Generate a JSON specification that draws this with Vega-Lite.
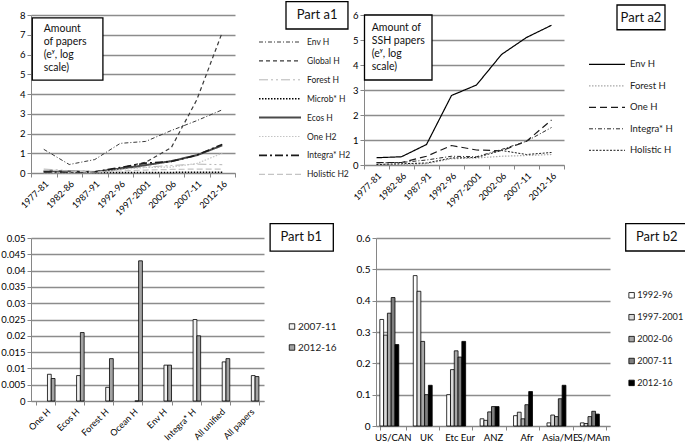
{
  "$schema": "https://vega.github.io/schema/vega-lite/v6.json",
  "background": "white",
  "padding": 0,
  "config": {
    "font": "Lato",
    "view": {"stroke": null},
    "axis": {"labelFont": "Lato", "labelFontSize": 9.5, "labelColor": "#000", "domainColor": "#868686", "tickColor": "#868686", "gridColor": "#8c8c8c", "gridWidth": 1.5, "title": null, "tickSize": 4, "labelPadding": 2},
    "legend": {"labelFont": "Lato", "labelColor": "#222", "padding": 0, "title": null, "orient": "none"}
  },
  "datasets": {
    "a1": [
      {"period": "1977-81", "series": "Env H", "value": 1.2}, {"period": "1982-86", "series": "Env H", "value": 0.43}, {"period": "1987-91", "series": "Env H", "value": 0.68}, {"period": "1992-96", "series": "Env H", "value": 1.5}, {"period": "1997-2001", "series": "Env H", "value": 1.6}, {"period": "2002-06", "series": "Env H", "value": 2.15}, {"period": "2007-11", "series": "Env H", "value": 2.65}, {"period": "2012-16", "series": "Env H", "value": 3.2},
      {"period": "1977-81", "series": "Global H", "value": 0.1}, {"period": "1982-86", "series": "Global H", "value": 0.05}, {"period": "1987-91", "series": "Global H", "value": 0.05}, {"period": "1992-96", "series": "Global H", "value": 0.25}, {"period": "1997-2001", "series": "Global H", "value": 0.55}, {"period": "2002-06", "series": "Global H", "value": 1.28}, {"period": "2007-11", "series": "Global H", "value": 3.7}, {"period": "2012-16", "series": "Global H", "value": 7.12},
      {"period": "1977-81", "series": "Forest H", "value": 0.2}, {"period": "1982-86", "series": "Forest H", "value": 0.12}, {"period": "1987-91", "series": "Forest H", "value": 0.08}, {"period": "1992-96", "series": "Forest H", "value": 0.22}, {"period": "1997-2001", "series": "Forest H", "value": 0.3}, {"period": "2002-06", "series": "Forest H", "value": 0.38}, {"period": "2007-11", "series": "Forest H", "value": 0.45}, {"period": "2012-16", "series": "Forest H", "value": 0.42},
      {"period": "1977-81", "series": "Microb* H", "value": 0.05}, {"period": "1982-86", "series": "Microb* H", "value": 0.05}, {"period": "1987-91", "series": "Microb* H", "value": 0.03}, {"period": "1992-96", "series": "Microb* H", "value": 0.03}, {"period": "1997-2001", "series": "Microb* H", "value": 0.03}, {"period": "2002-06", "series": "Microb* H", "value": 0.03}, {"period": "2007-11", "series": "Microb* H", "value": 0.04}, {"period": "2012-16", "series": "Microb* H", "value": 0.04},
      {"period": "1977-81", "series": "Ecos H", "value": 0.1}, {"period": "1982-86", "series": "Ecos H", "value": 0.08}, {"period": "1987-91", "series": "Ecos H", "value": 0.05}, {"period": "1992-96", "series": "Ecos H", "value": 0.22}, {"period": "1997-2001", "series": "Ecos H", "value": 0.4}, {"period": "2002-06", "series": "Ecos H", "value": 0.6}, {"period": "2007-11", "series": "Ecos H", "value": 0.9}, {"period": "2012-16", "series": "Ecos H", "value": 1.4},
      {"period": "1977-81", "series": "One H2", "value": 0.02}, {"period": "1982-86", "series": "One H2", "value": 0.02}, {"period": "1987-91", "series": "One H2", "value": 0.04}, {"period": "1992-96", "series": "One H2", "value": 0.18}, {"period": "1997-2001", "series": "One H2", "value": 0.28}, {"period": "2002-06", "series": "One H2", "value": 0.3}, {"period": "2007-11", "series": "One H2", "value": 0.48}, {"period": "2012-16", "series": "One H2", "value": 1.0},
      {"period": "1977-81", "series": "Integra* H2", "value": 0.05}, {"period": "1982-86", "series": "Integra* H2", "value": 0.05}, {"period": "1987-91", "series": "Integra* H2", "value": 0.06}, {"period": "1992-96", "series": "Integra* H2", "value": 0.28}, {"period": "1997-2001", "series": "Integra* H2", "value": 0.5}, {"period": "2002-06", "series": "Integra* H2", "value": 0.58}, {"period": "2007-11", "series": "Integra* H2", "value": 0.9}, {"period": "2012-16", "series": "Integra* H2", "value": 1.45},
      {"period": "1977-81", "series": "Holistic H2", "value": 0.15}, {"period": "1982-86", "series": "Holistic H2", "value": 0.1}, {"period": "1987-91", "series": "Holistic H2", "value": 0.05}, {"period": "1992-96", "series": "Holistic H2", "value": 0.1}, {"period": "1997-2001", "series": "Holistic H2", "value": 0.15}, {"period": "2002-06", "series": "Holistic H2", "value": 0.18}, {"period": "2007-11", "series": "Holistic H2", "value": 0.2}, {"period": "2012-16", "series": "Holistic H2", "value": 0.2}
    ],
    "a2": [
      {"period": "1977-81", "series": "Env H", "value": 0.29}, {"period": "1982-86", "series": "Env H", "value": 0.33}, {"period": "1987-91", "series": "Env H", "value": 0.82}, {"period": "1992-96", "series": "Env H", "value": 2.78}, {"period": "1997-2001", "series": "Env H", "value": 3.2}, {"period": "2002-06", "series": "Env H", "value": 4.42}, {"period": "2007-11", "series": "Env H", "value": 5.1}, {"period": "2012-16", "series": "Env H", "value": 5.59},
      {"period": "1977-81", "series": "Forest H", "value": 0.02}, {"period": "1982-86", "series": "Forest H", "value": 0.02}, {"period": "1987-91", "series": "Forest H", "value": 0.05}, {"period": "1992-96", "series": "Forest H", "value": 0.25}, {"period": "1997-2001", "series": "Forest H", "value": 0.28}, {"period": "2002-06", "series": "Forest H", "value": 0.35}, {"period": "2007-11", "series": "Forest H", "value": 0.38}, {"period": "2012-16", "series": "Forest H", "value": 0.42},
      {"period": "1977-81", "series": "One H", "value": 0.1}, {"period": "1982-86", "series": "One H", "value": 0.1}, {"period": "1987-91", "series": "One H", "value": 0.35}, {"period": "1992-96", "series": "One H", "value": 0.78}, {"period": "1997-2001", "series": "One H", "value": 0.6}, {"period": "2002-06", "series": "One H", "value": 0.57}, {"period": "2007-11", "series": "One H", "value": 0.95}, {"period": "2012-16", "series": "One H", "value": 1.8},
      {"period": "1977-81", "series": "Integra* H", "value": 0.08}, {"period": "1982-86", "series": "Integra* H", "value": 0.1}, {"period": "1987-91", "series": "Integra* H", "value": 0.2}, {"period": "1992-96", "series": "Integra* H", "value": 0.35}, {"period": "1997-2001", "series": "Integra* H", "value": 0.33}, {"period": "2002-06", "series": "Integra* H", "value": 0.62}, {"period": "2007-11", "series": "Integra* H", "value": 0.95}, {"period": "2012-16", "series": "Integra* H", "value": 1.5},
      {"period": "1977-81", "series": "Holistic H", "value": 0.02}, {"period": "1982-86", "series": "Holistic H", "value": 0.05}, {"period": "1987-91", "series": "Holistic H", "value": 0.08}, {"period": "1992-96", "series": "Holistic H", "value": 0.28}, {"period": "1997-2001", "series": "Holistic H", "value": 0.3}, {"period": "2002-06", "series": "Holistic H", "value": 0.58}, {"period": "2007-11", "series": "Holistic H", "value": 0.42}, {"period": "2012-16", "series": "Holistic H", "value": 0.5}
    ],
    "b1": [
      {"cat": "One H", "period": "2007-11", "value": 0.0082}, {"cat": "One H", "period": "2012-16", "value": 0.0069},
      {"cat": "Ecos H", "period": "2007-11", "value": 0.0078}, {"cat": "Ecos H", "period": "2012-16", "value": 0.021},
      {"cat": "Forest H", "period": "2007-11", "value": 0.0042}, {"cat": "Forest H", "period": "2012-16", "value": 0.013},
      {"cat": "Ocean H", "period": "2007-11", "value": 0}, {"cat": "Ocean H", "period": "2012-16", "value": 0.043},
      {"cat": "Env H", "period": "2007-11", "value": 0.011}, {"cat": "Env H", "period": "2012-16", "value": 0.011},
      {"cat": "Integra* H", "period": "2007-11", "value": 0.025}, {"cat": "Integra* H", "period": "2012-16", "value": 0.02},
      {"cat": "All unified", "period": "2007-11", "value": 0.012}, {"cat": "All unified", "period": "2012-16", "value": 0.013},
      {"cat": "All papers", "period": "2007-11", "value": 0.0078}, {"cat": "All papers", "period": "2012-16", "value": 0.0075}
    ],
    "b2": [
      {"region": "US/CAN", "period": "1992-96", "value": 0.34}, {"region": "US/CAN", "period": "1997-2001", "value": 0.29}, {"region": "US/CAN", "period": "2002-06", "value": 0.36}, {"region": "US/CAN", "period": "2007-11", "value": 0.41}, {"region": "US/CAN", "period": "2012-16", "value": 0.26},
      {"region": "UK", "period": "1992-96", "value": 0.48}, {"region": "UK", "period": "1997-2001", "value": 0.43}, {"region": "UK", "period": "2002-06", "value": 0.27}, {"region": "UK", "period": "2007-11", "value": 0.1}, {"region": "UK", "period": "2012-16", "value": 0.13},
      {"region": "Etc Eur", "period": "1992-96", "value": 0.1}, {"region": "Etc Eur", "period": "1997-2001", "value": 0.18}, {"region": "Etc Eur", "period": "2002-06", "value": 0.24}, {"region": "Etc Eur", "period": "2007-11", "value": 0.22}, {"region": "Etc Eur", "period": "2012-16", "value": 0.27},
      {"region": "ANZ", "period": "1992-96", "value": 0.023}, {"region": "ANZ", "period": "1997-2001", "value": 0.018}, {"region": "ANZ", "period": "2002-06", "value": 0.045}, {"region": "ANZ", "period": "2007-11", "value": 0.062}, {"region": "ANZ", "period": "2012-16", "value": 0.062},
      {"region": "Afr", "period": "1992-96", "value": 0.033}, {"region": "Afr", "period": "1997-2001", "value": 0.044}, {"region": "Afr", "period": "2002-06", "value": 0.023}, {"region": "Afr", "period": "2007-11", "value": 0.068}, {"region": "Afr", "period": "2012-16", "value": 0.11},
      {"region": "Asia/ME", "period": "1992-96", "value": 0.01}, {"region": "Asia/ME", "period": "1997-2001", "value": 0.035}, {"region": "Asia/ME", "period": "2002-06", "value": 0.03}, {"region": "Asia/ME", "period": "2007-11", "value": 0.087}, {"region": "Asia/ME", "period": "2012-16", "value": 0.13},
      {"region": "S/MAm", "period": "1992-96", "value": 0.01}, {"region": "S/MAm", "period": "1997-2001", "value": 0.008}, {"region": "S/MAm", "period": "2002-06", "value": 0.03}, {"region": "S/MAm", "period": "2007-11", "value": 0.047}, {"region": "S/MAm", "period": "2012-16", "value": 0.038}
    ],
    "a1_note": [{"label": "Amount\nof papers\n(eʸ, log\nscale)"}],
    "a2_note": [{"label": "Amount of\nSSH papers\n(eʸ, log\nscale)"}],
    "a1_part": [{"label": "Part a1"}],
    "a2_part": [{"label": "Part a2"}],
    "b1_part": [{"label": "Part b1"}],
    "b2_part": [{"label": "Part b2"}]
  },
  "resolve": {"scale": {"x": "independent", "y": "independent", "color": "independent", "strokeDash": "independent", "strokeWidth": "independent"}, "legend": {"color": "independent", "strokeDash": "independent", "strokeWidth": "independent"}},
  "spacing": 5,
  "vconcat": [
    {
      "spacing": 0,
      "resolve": {"scale": {"x": "independent", "y": "independent", "color": "independent", "strokeDash": "independent", "strokeWidth": "independent"}, "legend": {"color": "independent", "strokeDash": "independent", "strokeWidth": "independent"}},
      "hconcat": [
        {
          "width": 204, "height": 158,
          "resolve": {"scale": {"x": "independent", "y": "independent"}},
          "layer": [
            {
              "data": {"name": "a1"},
              "mark": {"type": "line", "strokeCap": "butt"},
              "encoding": {
                "x": {"field": "period", "type": "ordinal", "sort": null, "bandPosition": 0.5, "scale": {"type": "band", "paddingInner": 0, "paddingOuter": 0}, "axis": {"labelAngle": -45, "tickBand": "extent", "grid": false, "labelFontSize": 9}},
                "y": {"field": "value", "type": "quantitative", "scale": {"domain": [0, 8], "nice": false}, "axis": {"values": [0, 1, 2, 3, 4, 5, 6, 7, 8], "grid": true, "labelOverlap": false}},
                "color": {"field": "series", "type": "nominal", "scale": {"domain": ["Env H", "Global H", "Forest H", "Microb* H", "Ecos H", "One H2", "Integra* H2", "Holistic H2"], "range": ["#3a3a3a", "#3a3a3a", "#b5b5b5", "#000000", "#4a4a4a", "#c4c4c4", "#1a1a1a", "#c4c4c4"]}, "legend": {"legendX": 227, "legendY": 21, "symbolType": "stroke", "symbolSize": 1764, "clipHeight": 12, "rowPadding": 6.9, "labelOffset": 5, "labelFontSize": 8.5}},
                "strokeDash": {"field": "series", "type": "nominal", "scale": {"domain": ["Env H", "Global H", "Forest H", "Microb* H", "Ecos H", "One H2", "Integra* H2", "Holistic H2"], "range": [[4, 2, 1, 2], [4, 3], [9, 3, 2, 3, 2, 3], [1.5, 1.5], [1, 0], [1.5, 1.5], [8, 3, 2, 3], [6, 3]]}, "legend": {"legendX": 227, "legendY": 21, "symbolType": "stroke", "symbolSize": 1764, "clipHeight": 12, "rowPadding": 6.9, "labelOffset": 5, "labelFontSize": 8.5}},
                "strokeWidth": {"field": "series", "type": "nominal", "scale": {"type": "ordinal", "domain": ["Env H", "Global H", "Forest H", "Microb* H", "Ecos H", "One H2", "Integra* H2", "Holistic H2"], "range": [1, 1.2, 1, 1.5, 2, 1.2, 1.6, 1.2]}, "legend": {"legendX": 227, "legendY": 21, "symbolType": "stroke", "symbolSize": 1764, "clipHeight": 12, "rowPadding": 6.9, "labelOffset": 5, "labelFontSize": 8.5}}
              }
            },
            {
              "data": {"name": "a1_note"},
              "mark": {"type": "rect", "fill": "white", "stroke": "black", "strokeWidth": 1.3},
              "encoding": {
                "x": {"datum": 0.05, "type": "quantitative", "scale": {"domain": [0, 8], "nice": false}, "axis": null},
                "x2": {"datum": 2.82},
                "y": {"datum": 7.85, "type": "quantitative", "scale": {"domain": [0, 8], "nice": false}, "axis": null},
                "y2": {"datum": 4.7}
              }
            },
            {
              "data": {"name": "a1_note"},
              "mark": {"type": "text", "align": "left", "baseline": "top", "lineBreak": "\n", "fontSize": 10.5, "lineHeight": 13, "font": "Lato", "color": "#111"},
              "encoding": {
                "x": {"datum": 0.5, "type": "quantitative", "scale": {"domain": [0, 8], "nice": false}, "axis": null},
                "y": {"datum": 7.55, "type": "quantitative", "scale": {"domain": [0, 8], "nice": false}, "axis": null},
                "text": {"field": "label"}
              }
            },
            {
              "data": {"name": "a1_part"},
              "mark": {"type": "rect", "fill": "white", "stroke": "black", "strokeWidth": 1.3},
              "encoding": {
                "x": {"datum": 10.0, "type": "quantitative", "scale": {"domain": [0, 8], "nice": false}, "axis": null},
                "x2": {"datum": 12.43},
                "y": {"datum": 8.68, "type": "quantitative", "scale": {"domain": [0, 8], "nice": false}, "axis": null},
                "y2": {"datum": 7.29}
              }
            },
            {
              "data": {"name": "a1_part"},
              "mark": {"type": "text", "align": "center", "baseline": "middle", "fontSize": 13, "font": "Lato", "color": "#111"},
              "encoding": {
                "x": {"datum": 11.22, "type": "quantitative", "scale": {"domain": [0, 8], "nice": false}, "axis": null},
                "y": {"datum": 8.0, "type": "quantitative", "scale": {"domain": [0, 8], "nice": false}, "axis": null},
                "text": {"field": "label"}
              }
            }
          ]
        },
        {
          "width": 200, "height": 150,
          "resolve": {"scale": {"x": "independent", "y": "independent"}},
          "layer": [
            {
              "data": {"name": "a2"},
              "mark": {"type": "line", "strokeCap": "butt"},
              "encoding": {
                "x": {"field": "period", "type": "ordinal", "sort": null, "bandPosition": 0.5, "scale": {"type": "band", "paddingInner": 0, "paddingOuter": 0}, "axis": {"labelAngle": -45, "tickBand": "extent", "grid": false, "labelFontSize": 9}},
                "y": {"field": "value", "type": "quantitative", "scale": {"domain": [0, 6], "nice": false}, "axis": {"values": [0, 1, 2, 3, 4, 5, 6], "grid": true, "labelOverlap": false}},
                "color": {"field": "series", "type": "nominal", "scale": {"domain": ["Env H", "Forest H", "One H", "Integra* H", "Holistic H"], "range": ["#000000", "#a8a8a8", "#1a1a1a", "#2a2a2a", "#1a1a1a"]}, "legend": {"legendX": 224, "legendY": 43.3, "symbolType": "stroke", "symbolSize": 1296, "clipHeight": 12, "rowPadding": 9.5, "labelOffset": 4, "labelFontSize": 9.5}},
                "strokeDash": {"field": "series", "type": "nominal", "scale": {"domain": ["Env H", "Forest H", "One H", "Integra* H", "Holistic H"], "range": [[1, 0], [1.5, 1.5], [7, 4], [4, 2, 1, 2], [2, 1.5]]}, "legend": {"legendX": 224, "legendY": 43.3, "symbolType": "stroke", "symbolSize": 1296, "clipHeight": 12, "rowPadding": 9.5, "labelOffset": 4, "labelFontSize": 9.5}},
                "strokeWidth": {"field": "series", "type": "nominal", "scale": {"type": "ordinal", "domain": ["Env H", "Forest H", "One H", "Integra* H", "Holistic H"], "range": [1.2, 1.2, 1.2, 1, 1]}, "legend": {"legendX": 224, "legendY": 43.3, "symbolType": "stroke", "symbolSize": 1296, "clipHeight": 12, "rowPadding": 9.5, "labelOffset": 4, "labelFontSize": 9.5}}
              }
            },
            {
              "data": {"name": "a2_note"},
              "mark": {"type": "rect", "fill": "white", "stroke": "black", "strokeWidth": 1.3},
              "encoding": {
                "x": {"datum": 0.02, "type": "quantitative", "scale": {"domain": [0, 8], "nice": false}, "axis": null},
                "x2": {"datum": 2.72},
                "y": {"datum": 6.0, "type": "quantitative", "scale": {"domain": [0, 6], "nice": false}, "axis": null},
                "y2": {"datum": 3.4}
              }
            },
            {
              "data": {"name": "a2_note"},
              "mark": {"type": "text", "align": "left", "baseline": "top", "lineBreak": "\n", "fontSize": 10.5, "lineHeight": 13, "font": "Lato", "color": "#111"},
              "encoding": {
                "x": {"datum": 0.31, "type": "quantitative", "scale": {"domain": [0, 8], "nice": false}, "axis": null},
                "y": {"datum": 5.67, "type": "quantitative", "scale": {"domain": [0, 6], "nice": false}, "axis": null},
                "text": {"field": "label"}
              }
            },
            {
              "data": {"name": "a2_part"},
              "mark": {"type": "rect", "fill": "white", "stroke": "black", "strokeWidth": 1.3},
              "encoding": {
                "x": {"datum": 10.12, "type": "quantitative", "scale": {"domain": [0, 8], "nice": false}, "axis": null},
                "x2": {"datum": 12.04},
                "y": {"datum": 6.4, "type": "quantitative", "scale": {"domain": [0, 6], "nice": false}, "axis": null},
                "y2": {"datum": 5.41}
              }
            },
            {
              "data": {"name": "a2_part"},
              "mark": {"type": "text", "align": "center", "baseline": "middle", "fontSize": 13, "font": "Lato", "color": "#111"},
              "encoding": {
                "x": {"datum": 11.08, "type": "quantitative", "scale": {"domain": [0, 8], "nice": false}, "axis": null},
                "y": {"datum": 5.9, "type": "quantitative", "scale": {"domain": [0, 6], "nice": false}, "axis": null},
                "text": {"field": "label"}
              }
            }
          ]
        }
      ]
    },
    {
      "spacing": 19,
      "resolve": {"scale": {"x": "independent", "y": "independent", "color": "independent"}, "legend": {"color": "independent"}},
      "hconcat": [
        {
          "width": 233, "height": 163,
          "resolve": {"scale": {"x": "independent", "y": "independent"}},
          "layer": [
            {
              "data": {"name": "b1"},
              "mark": {"type": "bar", "stroke": "black", "strokeWidth": 0.8},
              "encoding": {
                "x": {"field": "cat", "type": "nominal", "sort": null, "scale": {"paddingInner": 0.35, "paddingOuter": 0.175}, "axis": {"labelAngle": -45, "tickBand": "extent", "grid": false, "labelFontSize": 9}},
                "xOffset": {"field": "period", "type": "nominal", "scale": {"paddingInner": 0, "paddingOuter": 0}},
                "y": {"field": "value", "type": "quantitative", "scale": {"domain": [0, 0.05], "nice": false}, "axis": {"values": [0, 0.005, 0.01, 0.015, 0.02, 0.025, 0.03, 0.035, 0.04, 0.045, 0.05], "format": "~g", "grid": true, "labelOverlap": false}},
                "color": {"field": "period", "type": "nominal", "scale": {"domain": ["2007-11", "2012-16"], "range": ["#f2f2f2", "#a3a3a3"]}, "legend": {"legendX": 256, "legendY": 83.5, "symbolType": "square", "symbolSize": 30, "symbolStrokeColor": "black", "symbolStrokeWidth": 0.8, "clipHeight": 10, "rowPadding": 11, "labelOffset": 1, "labelFontSize": 10}}
              }
            },
            {
              "data": {"name": "b1_part"},
              "mark": {"type": "rect", "fill": "white", "stroke": "black", "strokeWidth": 1.3},
              "encoding": {
                "x": {"datum": 8.21, "type": "quantitative", "scale": {"domain": [0, 8], "nice": false}, "axis": null},
                "x2": {"datum": 10.38},
                "y": {"datum": 0.05439, "type": "quantitative", "scale": {"domain": [0, 0.05], "nice": false}, "axis": null},
                "y2": {"datum": 0.046}
              }
            },
            {
              "data": {"name": "b1_part"},
              "mark": {"type": "text", "align": "center", "baseline": "middle", "fontSize": 13, "font": "Lato", "color": "#111"},
              "encoding": {
                "x": {"datum": 9.28, "type": "quantitative", "scale": {"domain": [0, 8], "nice": false}, "axis": null},
                "y": {"datum": 0.0502, "type": "quantitative", "scale": {"domain": [0, 0.05], "nice": false}, "axis": null},
                "text": {"field": "label"}
              }
            }
          ]
        },
        {
          "width": 234, "height": 188,
          "resolve": {"scale": {"x": "independent", "y": "independent"}},
          "layer": [
            {
              "data": {"name": "b2"},
              "mark": {"type": "bar", "stroke": "black", "strokeWidth": 0.8},
              "encoding": {
                "x": {"field": "region", "type": "nominal", "sort": null, "scale": {"paddingInner": 0.23, "paddingOuter": 0.115}, "axis": {"labelAngle": 0, "tickBand": "extent", "grid": false, "labelFontSize": 9.5}},
                "xOffset": {"field": "period", "type": "nominal", "sort": null, "scale": {"paddingInner": 0, "paddingOuter": 0}},
                "y": {"field": "value", "type": "quantitative", "scale": {"domain": [0, 0.6], "nice": false}, "axis": {"values": [0, 0.1, 0.2, 0.3, 0.4, 0.5, 0.6], "format": "~g", "grid": true, "labelFontSize": 10, "labelOverlap": false}},
                "color": {"field": "period", "type": "nominal", "scale": {"domain": ["1992-96", "1997-2001", "2002-06", "2007-11", "2012-16"], "range": ["#ffffff", "#d9d9d9", "#a6a6a6", "#7f7f7f", "#000000"]}, "legend": {"legendX": 251, "legendY": 52.3, "symbolType": "square", "symbolSize": 30, "symbolStrokeColor": "black", "symbolStrokeWidth": 0.8, "clipHeight": 10, "rowPadding": 10.9, "labelOffset": 1, "labelFontSize": 9.2}}
              }
            },
            {
              "data": {"name": "b2_part"},
              "mark": {"type": "rect", "fill": "white", "stroke": "black", "strokeWidth": 1.3},
              "encoding": {
                "x": {"datum": 7.47, "type": "quantitative", "scale": {"domain": [0, 7], "nice": false}, "axis": null},
                "x2": {"datum": 9.3},
                "y": {"datum": 0.6456, "type": "quantitative", "scale": {"domain": [0, 0.6], "nice": false}, "axis": null},
                "y2": {"datum": 0.5585}
              }
            },
            {
              "data": {"name": "b2_part"},
              "mark": {"type": "text", "align": "center", "baseline": "middle", "fontSize": 13, "font": "Lato", "color": "#111"},
              "encoding": {
                "x": {"datum": 8.4, "type": "quantitative", "scale": {"domain": [0, 7], "nice": false}, "axis": null},
                "y": {"datum": 0.602, "type": "quantitative", "scale": {"domain": [0, 0.6], "nice": false}, "axis": null},
                "text": {"field": "label"}
              }
            }
          ]
        }
      ]
    }
  ]
}
